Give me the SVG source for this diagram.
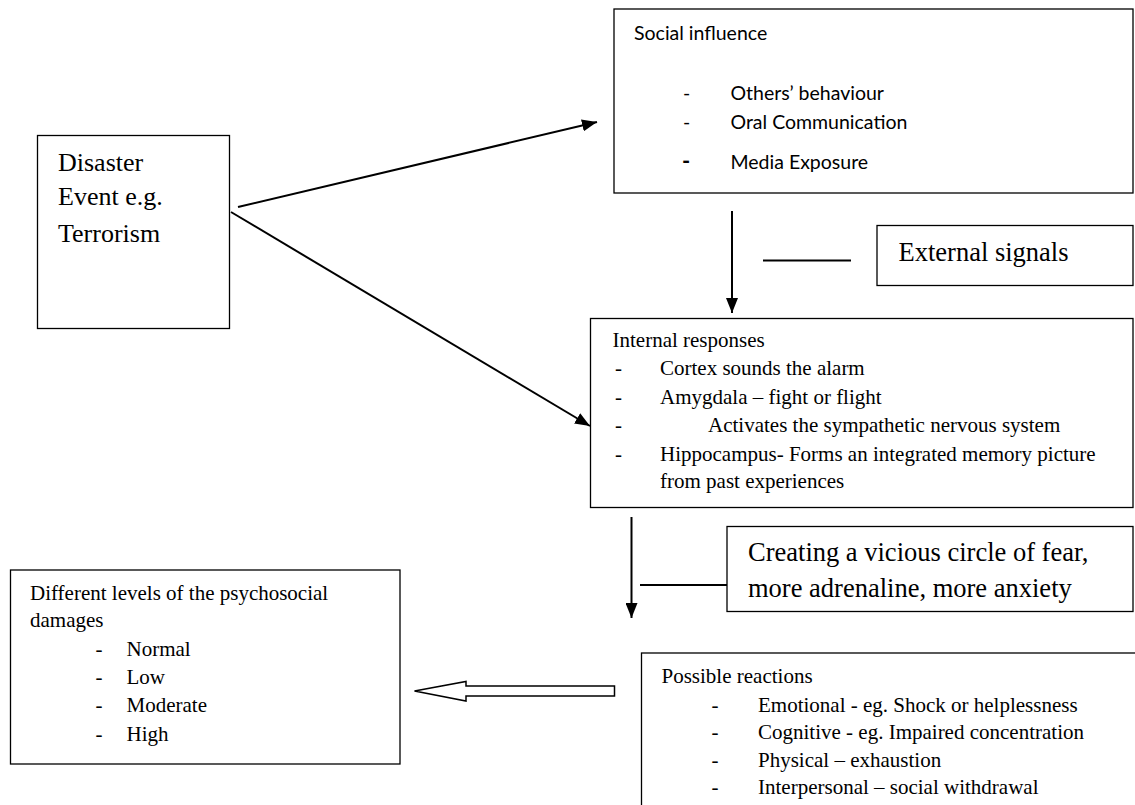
<svg xmlns="http://www.w3.org/2000/svg" width="1135" height="805" viewBox="0 0 1135 805">
<style>
.box{fill:#fff;stroke:#000;stroke-width:1.3}
.t{font-family:"Liberation Serif","Times New Roman",serif;fill:#000}
.s{font-family:Lato,"Open Sans",sans-serif;fill:#000}
.c{stroke:#000;stroke-width:2;fill:none}
</style>
<defs>
<marker id="ah" markerWidth="15" markerHeight="12" refX="15" refY="6" orient="auto" markerUnits="userSpaceOnUse"><path d="M0,0 L15,6 L0,12 z" fill="#000"/></marker>
</defs>
<rect width="1135" height="805" fill="#fff"/>
<g id="disaster">
<rect class="box" x="37.5" y="135.5" width="192" height="193"/>
<text class="t" font-size="26" x="58" y="171">Disaster</text>
<text class="t" font-size="26" x="58" y="205">Event e.g.</text>
<text class="t" font-size="26" x="58" y="241.5">Terrorism</text>
</g>
<g id="social">
<rect class="box" x="614" y="9" width="519" height="184"/>
<text class="s" font-size="19.5" x="634" y="40">Social influence</text>
<text class="s" font-size="19.5" x="683" y="100">-</text>
<text class="s" font-size="19.5" x="730.5" y="100">Others’ behaviour</text>
<text class="s" font-size="19.5" x="683" y="129">-</text>
<text class="s" font-size="19.5" x="730.5" y="129">Oral Communication</text>
<text class="s" font-size="22" font-weight="bold" x="682" y="169">-</text>
<text class="s" font-size="19.5" x="730.5" y="169">Media Exposure</text>
</g>
<g id="external">
<rect class="box" x="877" y="225.5" width="256" height="60"/>
<text class="t" font-size="26.5" x="898.5" y="260.5">External signals</text>
</g>
<g id="internal">
<rect class="box" x="590.5" y="318.5" width="542.5" height="189"/>
<text class="t" font-size="21" x="612.5" y="347">Internal responses</text>
<text class="t" font-size="21" x="615" y="375">-</text>
<text class="t" font-size="21" x="660" y="375">Cortex sounds the alarm</text>
<text class="t" font-size="21" x="615" y="404">-</text>
<text class="t" font-size="21" x="660" y="404">Amygdala – fight or flight</text>
<text class="t" font-size="21" x="615" y="432">-</text>
<text class="t" font-size="21" x="708" y="432">Activates the sympathetic nervous system</text>
<text class="t" font-size="21" x="615" y="460.5">-</text>
<text class="t" font-size="21" x="660" y="460.5">Hippocampus- Forms an integrated memory picture</text>
<text class="t" font-size="21" x="660" y="487.5">from past experiences</text>
</g>
<g id="vicious">
<rect class="box" x="727" y="526.5" width="406" height="85"/>
<text class="t" font-size="26.5" x="748" y="560.5">Creating a vicious circle of fear,</text>
<text class="t" font-size="26.5" x="748" y="596.5">more adrenaline, more anxiety</text>
</g>
<g id="levels">
<rect class="box" x="10.5" y="570" width="389.5" height="194"/>
<text class="t" font-size="21" x="30" y="600">Different levels of the psychosocial</text>
<text class="t" font-size="21" x="30" y="627">damages</text>
<text class="t" font-size="21" x="95.5" y="655.5">-</text>
<text class="t" font-size="21" x="126.5" y="655.5">Normal</text>
<text class="t" font-size="21" x="95.5" y="684">-</text>
<text class="t" font-size="21" x="126.5" y="684">Low</text>
<text class="t" font-size="21" x="95.5" y="712">-</text>
<text class="t" font-size="21" x="126.5" y="712">Moderate</text>
<text class="t" font-size="21" x="95.5" y="740.5">-</text>
<text class="t" font-size="21" x="126.5" y="740.5">High</text>
</g>
<g id="reactions">
<rect class="box" x="641.5" y="653" width="520" height="170"/>
<text class="t" font-size="21" x="661.5" y="683">Possible reactions</text>
<text class="t" font-size="21" x="711.5" y="711.5">-</text>
<text class="t" font-size="21" x="758" y="711.5">Emotional - eg. Shock or helplessness</text>
<text class="t" font-size="21" x="711.5" y="739">-</text>
<text class="t" font-size="21" x="758" y="739">Cognitive - eg. Impaired concentration</text>
<text class="t" font-size="21" x="711.5" y="766.5">-</text>
<text class="t" font-size="21" x="758" y="766.5">Physical – exhaustion</text>
<text class="t" font-size="21" x="711.5" y="794">-</text>
<text class="t" font-size="21" x="758" y="794">Interpersonal – social withdrawal</text>
</g>
<g id="connectors">
<line class="c" x1="238" y1="207" x2="597" y2="122" marker-end="url(#ah)"/>
<line class="c" x1="231" y1="212" x2="590" y2="426" marker-end="url(#ah)"/>
<line class="c" x1="732" y1="211" x2="732" y2="313" marker-end="url(#ah)"/>
<line class="c" x1="763" y1="260.5" x2="851" y2="260.5"/>
<line class="c" x1="631.5" y1="517" x2="631.5" y2="618" marker-end="url(#ah)"/>
<line class="c" x1="640" y1="585" x2="727" y2="585"/>
<polygon points="414.5,691 466,681.5 466,686 614.5,686 614.5,696 466,696 466,701" fill="#fff" stroke="#000" stroke-width="1.5"/>
</g>
</svg>
